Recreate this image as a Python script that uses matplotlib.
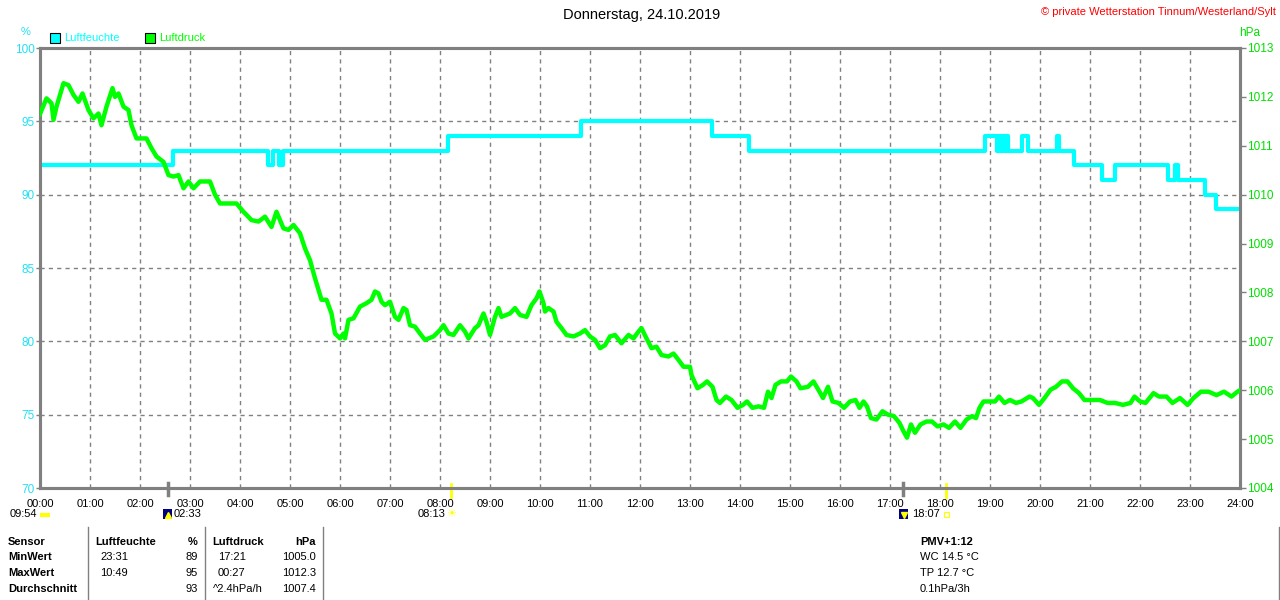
import matplotlib.pyplot as plt
from matplotlib.patches import Rectangle

plt.rcParams['font.family'] = ['Liberation Sans', 'DejaVu Sans']

# Luftfeuchte (%), step changes: hour -> value
hum_t = [0.0, 2.66, 4.56, 4.66, 4.77, 4.86, 8.16, 10.82, 13.44, 14.18, 18.9,
         19.14, 19.18, 19.22, 19.26, 19.30, 19.34, 19.36, 19.64, 19.76, 20.34,
         20.38, 20.68, 21.24, 21.5, 22.56, 22.7, 22.76, 23.3, 23.52, 24.0]
hum_v = [92, 93, 92, 93, 92, 93, 94, 95, 94, 93, 94,
         93, 94, 93, 94, 93, 94, 93, 94, 93, 94,
         93, 92, 91, 92, 91, 92, 91, 90, 89, 89]

# Luftdruck (hPa)
p_t = [0.00, 0.13, 0.23, 0.27, 0.33, 0.47, 0.57, 0.67, 0.77, 0.85, 0.97, 1.07,
       1.17, 1.23, 1.33, 1.45, 1.50, 1.57, 1.67, 1.77, 1.83, 1.93, 2.13, 2.23,
       2.33, 2.47, 2.57, 2.67, 2.77, 2.87, 2.97, 3.07, 3.20, 3.40, 3.50, 3.60,
       3.93, 4.07, 4.23, 4.37, 4.50, 4.63, 4.73, 4.87, 4.97, 5.07, 5.20, 5.30,
       5.40, 5.50, 5.57, 5.63, 5.73, 5.83, 5.90, 6.00, 6.07, 6.10, 6.17, 6.27,
       6.40, 6.53, 6.63, 6.70, 6.77, 6.83, 6.90, 7.00, 7.10, 7.17, 7.27, 7.33,
       7.40, 7.50, 7.60, 7.70, 7.87, 8.00, 8.07, 8.17, 8.27, 8.40, 8.50, 8.57,
       8.70, 8.77, 8.87, 8.93, 9.00, 9.10, 9.17, 9.23, 9.40, 9.50, 9.60, 9.73,
       9.83, 9.93, 9.99, 10.07, 10.10, 10.17, 10.27, 10.33, 10.43, 10.53, 10.67,
       10.80, 10.90, 11.00, 11.10, 11.20, 11.30, 11.40, 11.50, 11.63, 11.77,
       11.87, 11.97, 12.03, 12.13, 12.23, 12.33, 12.43, 12.57, 12.67, 12.77,
       12.87, 13.00, 13.03, 13.15, 13.26, 13.34, 13.45, 13.53, 13.60, 13.72,
       13.83, 13.95, 14.06, 14.14, 14.25, 14.37, 14.48, 14.56, 14.63, 14.71,
       14.82, 14.94, 15.02, 15.13, 15.21, 15.36, 15.47, 15.59, 15.66, 15.76,
       15.85, 15.97, 16.08, 16.20, 16.31, 16.39, 16.47, 16.54, 16.62, 16.73,
       16.85, 16.96, 17.08, 17.19, 17.27, 17.34, 17.42, 17.50, 17.61, 17.73,
       17.84, 17.95, 18.07, 18.18, 18.30, 18.41, 18.53, 18.64, 18.72, 18.79,
       18.87, 18.98, 19.10, 19.18, 19.29, 19.40, 19.52, 19.63, 19.79, 19.86,
       19.98, 20.09, 20.21, 20.32, 20.44, 20.55, 20.66, 20.78, 20.89, 21.05,
       21.20, 21.35, 21.50, 21.66, 21.81, 21.89, 22.00, 22.11, 22.27, 22.38,
       22.53, 22.65, 22.80, 22.95, 23.07, 23.22, 23.37, 23.53, 23.68, 23.83,
       23.95, 24.00]
p_v = [1011.65, 1011.97, 1011.87, 1011.53, 1011.80, 1012.28, 1012.24, 1012.04,
       1011.90, 1012.07, 1011.73, 1011.56, 1011.66, 1011.42, 1011.80, 1012.18,
       1012.00, 1012.07, 1011.80, 1011.73, 1011.42, 1011.15, 1011.15, 1010.95,
       1010.78, 1010.67, 1010.40, 1010.37, 1010.40, 1010.13, 1010.27, 1010.13,
       1010.27, 1010.27, 1010.00, 1009.82, 1009.82, 1009.65, 1009.48, 1009.45,
       1009.55, 1009.34, 1009.65, 1009.31, 1009.28, 1009.38, 1009.21, 1008.90,
       1008.66, 1008.29, 1008.05, 1007.85, 1007.85, 1007.57, 1007.16, 1007.06,
       1007.16, 1007.06, 1007.44, 1007.47, 1007.71, 1007.78, 1007.85, 1008.02,
       1007.98, 1007.81, 1007.74, 1007.81, 1007.50, 1007.44, 1007.68, 1007.64,
       1007.33, 1007.30, 1007.16, 1007.03, 1007.10, 1007.23, 1007.33, 1007.16,
       1007.13, 1007.33, 1007.20, 1007.06, 1007.27, 1007.33, 1007.57, 1007.40,
       1007.13, 1007.50, 1007.68, 1007.50, 1007.57, 1007.68, 1007.54, 1007.50,
       1007.74, 1007.88, 1008.02, 1007.78, 1007.61, 1007.68, 1007.61, 1007.40,
       1007.27, 1007.13, 1007.10, 1007.16, 1007.23, 1007.10, 1007.03, 1006.86,
       1006.92, 1007.10, 1007.13, 1006.96, 1007.13, 1007.06, 1007.20, 1007.27,
       1007.06, 1006.86, 1006.89, 1006.72, 1006.69, 1006.75, 1006.62, 1006.48,
       1006.48, 1006.31, 1006.04, 1006.11, 1006.18, 1006.07, 1005.80, 1005.74,
       1005.87, 1005.80, 1005.64, 1005.70, 1005.77, 1005.64, 1005.67, 1005.64,
       1005.97, 1005.84, 1006.11, 1006.18, 1006.18, 1006.28, 1006.18, 1006.04,
       1006.07, 1006.18, 1005.97, 1005.84, 1006.07, 1005.77, 1005.74, 1005.64,
       1005.77, 1005.80, 1005.64, 1005.77, 1005.67, 1005.43, 1005.40, 1005.57,
       1005.50, 1005.47, 1005.33, 1005.16, 1005.03, 1005.30, 1005.13, 1005.30,
       1005.36, 1005.36, 1005.26, 1005.30, 1005.23, 1005.36, 1005.23, 1005.40,
       1005.47, 1005.43, 1005.64, 1005.77, 1005.77, 1005.77, 1005.87, 1005.74,
       1005.80, 1005.74, 1005.77, 1005.87, 1005.84, 1005.70, 1005.84, 1006.01,
       1006.07, 1006.18, 1006.18, 1006.04, 1005.94, 1005.80, 1005.80, 1005.80,
       1005.74, 1005.74, 1005.70, 1005.74, 1005.87, 1005.77, 1005.74, 1005.94,
       1005.87, 1005.87, 1005.74, 1005.84, 1005.70, 1005.84, 1005.97, 1005.97,
       1005.90, 1005.97, 1005.87, 1005.97, 1006.00]

hour_labels = ['%02d:00' % h for h in range(25)]

# moon / sun events (hours)
moon_t = [2.55, 17.26]
sun_t = [8.22, 18.12]

W, H = 1280, 600
GRAY = '#808080'
CYAN = '#00ffff'
GREEN = '#00ff00'


def fx(x):
    return x / W


def fy(y):
    return 1 - y / H


fig = plt.figure(figsize=(12.8, 6), dpi=100)
ax = fig.add_axes([fx(40), fy(488), 1200 / W, 440 / H])
ax2 = ax.twinx()

ax.step(hum_t, hum_v, where='post', color=CYAN, lw=3, zorder=3)
ax2.plot(p_t, p_v, color=GREEN, lw=3.2, zorder=3)

ax.set_xlim(0, 24)
ax.set_ylim(70, 100)
ax2.set_ylim(1004, 1013)
ax.set_xticks(range(25))
ax.set_xticklabels(hour_labels)
ax.set_yticks(range(70, 101, 5))
ax2.set_yticks(range(1004, 1014))

ax.grid(True, color=GRAY, ls=(0, (3, 3)), lw=1)
ax.set_axisbelow(True)
for a in (ax, ax2):
    for s in a.spines.values():
        s.set_color(GRAY)
        s.set_linewidth(2.2)
ax.tick_params(axis='x', length=0, pad=8, labelsize=8, labelcolor='black')
ax.tick_params(axis='y', length=3, width=1, color=GRAY, pad=1, labelsize=8.5,
               labelcolor='#22e0f4')
ax2.tick_params(axis='y', length=4, width=1, color=GRAY, pad=1, labelsize=8.5,
                labelcolor='#00e000')

# event ticks on the time axis
tr = ax.get_xaxis_transform()
for t in moon_t:
    ax.plot([t, t], [0.012, -0.016], color=GRAY, lw=2.5, transform=tr,
            clip_on=False, zorder=5)
for t in sun_t:
    ax.plot([t, t], [0.009, -0.02], color='#ffff00', lw=2, transform=tr,
            clip_on=False, zorder=5)

# header texts
fig.text(fx(642), fy(15), 'Donnerstag, 24.10.2019', ha='center', va='center',
         fontsize=10.5)
fig.text(fx(1276), fy(12), '\u00a9 private Wetterstation Tinnum/Westerland/Sylt',
         ha='right', va='center', fontsize=8, color='#ff0000')
fig.text(fx(26), fy(32), '%', ha='center', va='center', fontsize=8, color='#22e0f4')
fig.text(fx(1250), fy(33), 'hPa', ha='center', va='center', fontsize=8.5,
         color='#00e000')

# legend
for x0, col, lab in [(50, CYAN, 'Luftfeuchte'), (145, GREEN, 'Luftdruck')]:
    fig.add_artist(Rectangle((fx(x0), fy(43)), 10 / W, 10 / H, facecolor=col,
                             edgecolor='black', lw=0.8, transform=fig.transFigure))
    fig.text(fx(x0 + 14), fy(38), lab, ha='left', va='center', fontsize=8,
             color=col)

# sun / moon labels below the axis
fig.text(fx(10), fy(514), '09:54', ha='left', va='center', fontsize=8)
fig.add_artist(Rectangle((fx(40), fy(517)), 10 / W, 4 / H, facecolor='#ffff00',
                         edgecolor='none', transform=fig.transFigure))
for xm, mk in [(163, '^'), (899, 'v')]:
    fig.add_artist(Rectangle((fx(xm), fy(519)), 9 / W, 10 / H, facecolor='#000080',
                             edgecolor='none', transform=fig.transFigure))
    fig.add_artist(plt.Line2D([fx(xm + 5)], [fy(515)], marker=mk, ms=4,
                              color='#ffff00', transform=fig.transFigure))
fig.text(fx(174), fy(514), '02:33', ha='left', va='center', fontsize=8)
fig.text(fx(418), fy(514), '08:13', ha='left', va='center', fontsize=8)
fig.text(fx(451), fy(514), '\u2600', ha='center', va='center', fontsize=8,
         color='#ffff00', family='DejaVu Sans')
fig.text(fx(912), fy(514), '18:07', ha='left', va='center', fontsize=8)
fig.add_artist(Rectangle((fx(944), fy(517)), 5 / W, 5 / H, facecolor='none',
                         edgecolor='#ffff00', lw=0.8, transform=fig.transFigure))

# summary table
rows_y = [542, 557, 573, 589]
bold_left = ['Sensor', 'MinWert', 'MaxWert', 'Durchschnitt']
for y, t in zip(rows_y, bold_left):
    fig.text(fx(8), fy(y), t, ha='left', va='center', fontsize=8, weight='bold')
fig.text(fx(95), fy(542), 'Luftfeuchte', ha='left', va='center', fontsize=8,
         weight='bold')
fig.text(fx(198), fy(542), '%', ha='right', va='center', fontsize=8, weight='bold')
fig.text(fx(212), fy(542), 'Luftdruck', ha='left', va='center', fontsize=8,
         weight='bold')
fig.text(fx(316), fy(542), 'hPa', ha='right', va='center', fontsize=8,
         weight='bold')

hum_times = ['23:31', '10:49', '']
hum_stats = ['89', '95', '93']
p_times = ['17:21', '00:27', '^2.4hPa/h']
p_stats = ['1005.0', '1012.3', '1007.4']
for i, y in enumerate(rows_y[1:]):
    fig.text(fx(100), fy(y), hum_times[i], ha='left', va='center', fontsize=8)
    fig.text(fx(198), fy(y), hum_stats[i], ha='right', va='center', fontsize=8)
    fig.text(fx(213 if i == 2 else 218), fy(y), p_times[i], ha='left',
             va='center', fontsize=8)
    fig.text(fx(316), fy(y), p_stats[i], ha='right', va='center', fontsize=8)

for xl in [88, 205, 323, 1279]:
    fig.add_artist(plt.Line2D([fx(xl), fx(xl)], [fy(527), fy(600)], color=GRAY,
                              lw=1, transform=fig.transFigure))

fig.text(fx(920), fy(542), 'PMV+1:12', ha='left', va='center', fontsize=8,
         weight='bold')
extra = ['WC 14.5 \u00b0C', 'TP 12.7 \u00b0C', '0.1hPa/3h']
for y, t in zip(rows_y[1:], extra):
    fig.text(fx(920), fy(y), t, ha='left', va='center', fontsize=8)

fig.savefig('out.png', dpi=100)
